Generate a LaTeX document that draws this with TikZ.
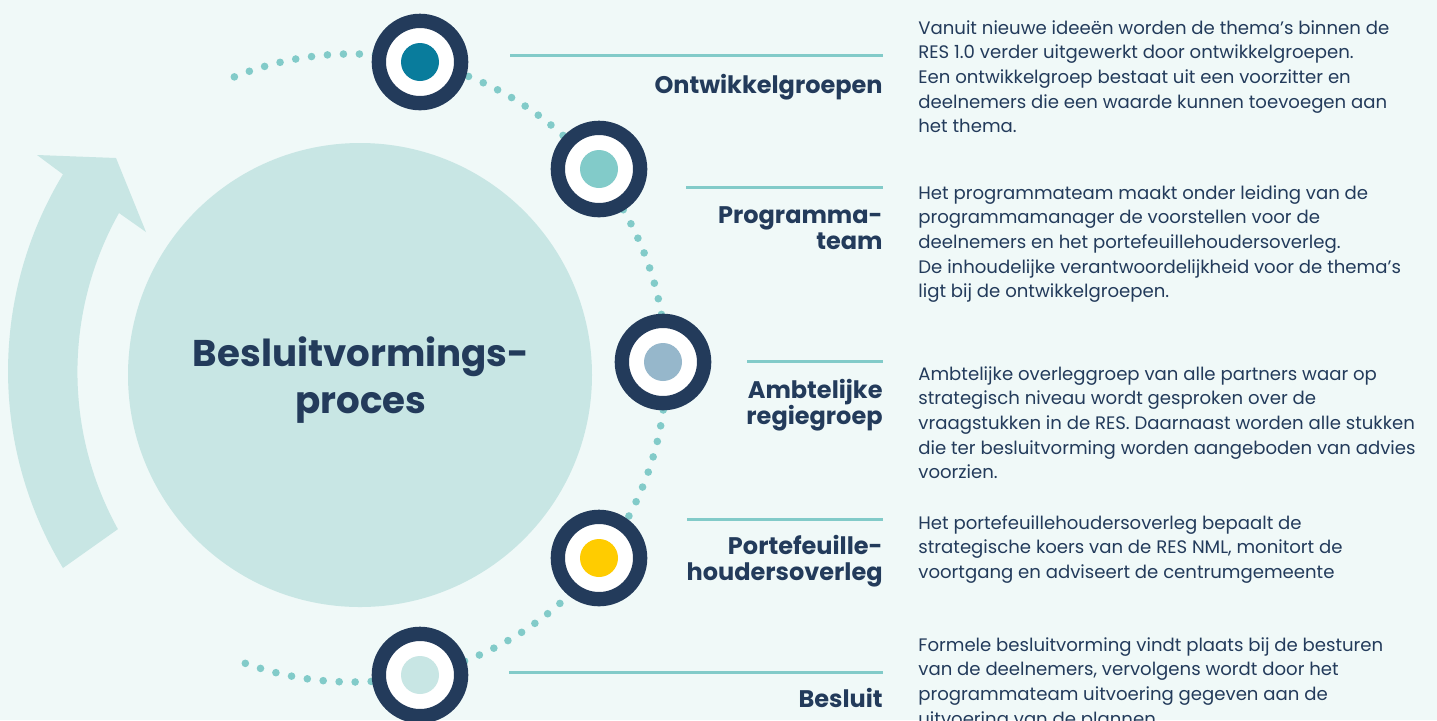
\documentclass[tikz,border=0pt]{standalone}
\usepackage{fontspec}
\setmainfont{Poppins}
\usetikzlibrary{positioning}

\definecolor{navy}{HTML}{233B5B}
\definecolor{aqua}{HTML}{82CBC9}
\definecolor{pale}{HTML}{C8E6E4}
\definecolor{backdrop}{HTML}{F0F9F8}
\definecolor{deepteal}{HTML}{097C9C}
\definecolor{steel}{HTML}{96B7CB}
\definecolor{sun}{HTML}{FFCC00}

\newcommand{\blurbtext}[1]{\parbox[t]{15cm}{\raggedright #1}}
\newcommand{\stagetext}[1]{\parbox[t]{6cm}{\raggedleft #1}}

\begin{document}
\begin{tikzpicture}[
    x=0.5pt, y=-0.5pt,
    ring/.style={circle, draw=navy, fill=white, line width=7.15pt, minimum size=41.15pt, inner sep=0pt,
      path picture={\fill[#1] (path picture bounding box.center) circle[radius=9.5pt];}},
    stagename/.style={anchor=base east, inner sep=0pt, text=navy, font=\bfseries\fontsize{12}{13}\selectfont},
    blurb/.style={anchor=base west, inner sep=0pt, text=navy, font=\fontsize{9.05}{12.35}\selectfont},
    rule/.style={draw=aqua, line width=1.5pt},
    dotarc/.style={draw=aqua, line width=3.8pt, line cap=round, dash pattern=on 0pt off 8pt}
]
\useasboundingbox (0,0) rectangle (1437,720);
\fill[backdrop] (0,0) rectangle (1437,720);

% cycle arrow on the left
\fill[pale] (63,568) arc[start angle=148.8, end angle=211.2, radius=380]
  -- (37,155) -- (116,158) -- (146,232) -- (119,213)
  arc[start angle=209.3, end angle=151.1, radius=325] -- cycle;

% central disc
\node[circle, fill=pale, minimum size=232pt, inner sep=0pt] (hub) at (360,375) {};
\node[anchor=base, inner sep=0pt, text=navy, font=\bfseries\fontsize{18.6}{23.5}\selectfont] (title) at (361,366)
  {\parbox[t]{8cm}{\centering Besluitvormings-\\proces}};

% dotted track
\draw[dotarc] (352,368) ++(-112:314) arc[start angle=-112, end angle=112, radius=314];

% stages
\node[ring=deepteal] (c1) at (420,62) {};
\node[ring=aqua] (c2) at (599,169) {};
\node[ring=steel] (c3) at (663,362) {};
\node[ring=sun] (c4) at (599,558) {};
\node[ring=pale] (c5) at (420,675) {};

\node[stagename] (l1) at (883,93) {\stagetext{Ontwikkelgroepen}};
\node[stagename] (l2) at (883,223) {\stagetext{Programma-\\team}};
\node[stagename] (l3) at (883,398) {\stagetext{Ambtelijke\\regiegroep}};
\node[stagename] (l4) at (883,554) {\stagetext{Portefeuille-\\houdersoverleg}};
\node[stagename] (l5) at (883,707) {\stagetext{Besluit}};

\coordinate (r1) at (510,55);
\coordinate (r2) at (686,187);
\coordinate (r3) at (747,361);
\coordinate (r4) at (687,519);
\coordinate (r5) at (509,672);
\foreach \i in {1,...,5}
  \draw[rule] (r\i) -- (r\i -| l\i.east);

% descriptions
\node[blurb] (d1) at (918,34) {\blurbtext{Vanuit nieuwe ideeën worden de thema’s binnen de\\RES 1.0 verder uitgewerkt door ontwikkelgroepen.\\Een ontwikkelgroep bestaat uit een voorzitter en\\deelnemers die een waarde kunnen toevoegen aan\\het thema.}};
\node[blurb] (d2) at (918,199) {\blurbtext{Het programmateam maakt onder leiding van de\\programmamanager de voorstellen voor de\\deelnemers en het portefeuillehoudersoverleg.\\De inhoudelijke verantwoordelijkheid voor de thema’s\\ligt bij de ontwikkelgroepen.}};
\node[blurb] (d3) at (918,380) {\blurbtext{Ambtelijke overleggroep van alle partners waar op\\strategisch niveau wordt gesproken over de\\vraagstukken in de RES. Daarnaast worden alle stukken\\die ter besluitvorming worden aangeboden van advies\\voorzien.}};
\node[blurb] (d4) at (918,529) {\blurbtext{Het portefeuillehoudersoverleg bepaalt de\\strategische koers van de RES NML, monitort de\\voortgang en adviseert de centrumgemeente}};
\node[blurb] (d5) at (918,651) {\blurbtext{Formele besluitvorming vindt plaats bij de besturen\\van de deelnemers, vervolgens wordt door het\\programmateam uitvoering gegeven aan de\\uitvoering van de plannen.}};
\end{tikzpicture}
\end{document}
